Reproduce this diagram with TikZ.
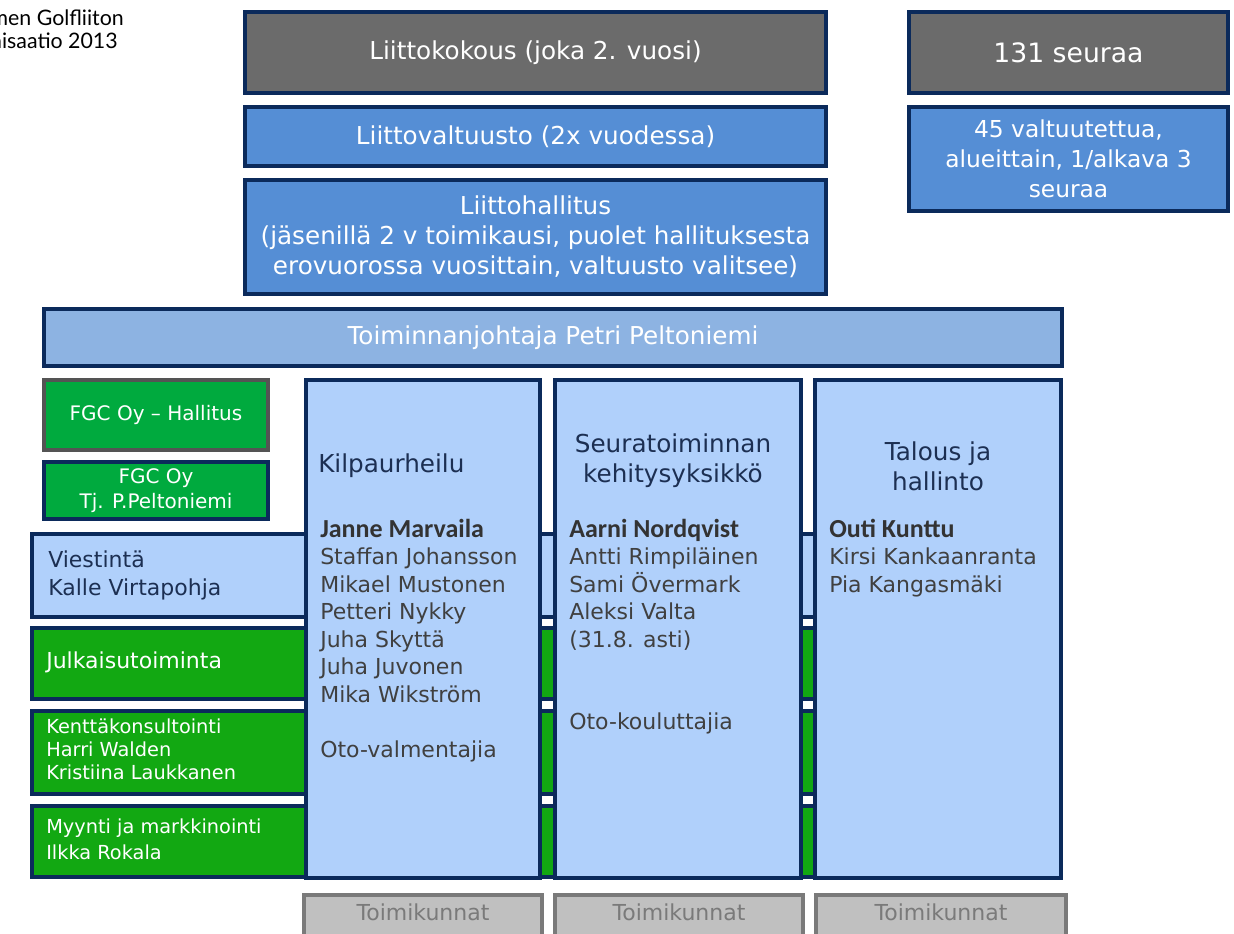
\documentclass[tikz,border=0pt]{standalone}
\usepackage{fontspec}
\setmainfont{DejaVu Sans}
\newfontfamily\namefont{Carlito}
\newfontfamily\notefont{Lato}
\usetikzlibrary{fit}
\definecolor{navy}{HTML}{0B2A5B}
\definecolor{boxgray}{HTML}{6B6B6B}
\definecolor{midblue}{HTML}{558ED5}
\definecolor{tjblue}{HTML}{8DB3E2}
\definecolor{lightblue}{HTML}{B0D0FB}
\definecolor{bandgreen}{HTML}{12A812}
\definecolor{fgcgreen}{HTML}{00AA3E}
\definecolor{tkgray}{HTML}{C0C0C0}
\definecolor{tkedge}{HTML}{7A7A7A}
\definecolor{nametext}{HTML}{404040}
\definecolor{boldtext}{HTML}{333333}
\definecolor{headtext}{HTML}{1C2F52}
\newcommand{\fsz}[2]{\fontsize{#1}{#2}\selectfont}
\newcommand{\boldname}[1]{{\namefont\bfseries\fontsize{19.5}{20.6}\selectfont\color{boldtext}#1}}
\begin{document}
\begin{tikzpicture}[x=0.75pt,y=-0.75pt,
  box/.style={draw=navy,line width=3pt,inner sep=0pt,rectangle},
  graybox/.style={box,fill=boxgray},
  midbox/.style={box,fill=midblue},
  tjbox/.style={box,fill=tjblue},
  fgcbox/.style={box,fill=fgcgreen},
  band/.style={box,fill=bandgreen},
  lightband/.style={box,fill=lightblue},
  column/.style={box,fill=lightblue},
  tkbox/.style={draw=tkedge,fill=tkgray,line width=3pt,inner sep=0pt,rectangle},
  wtext/.style={text=white,inner sep=0pt,align=center,font=\fsz{18.5}{22.5}},
  fgctext/.style={text=white,inner sep=0pt,align=center,font=\fsz{15}{18.5}},
  tktext/.style={text=tkedge,font=\fsz{16.5}{20},inner sep=0pt},
  bandtext/.style={anchor=west,align=left,inner sep=0pt,text=white},
  headtxt/.style={text=headtext,font=\fsz{18.5}{22.5},inner sep=0pt,align=center},
  names/.style={anchor=base west,align=left,inner sep=0pt,text=nametext,font=\fsz{16.5}{20.6}},
  note/.style={anchor=base east,inner sep=0pt,font=\notefont\fsz{16}{19}}
]
\useasboundingbox (0,0) rectangle (1234,933);
\clip (0,0) rectangle (1234,933);

% note
\node[note] (note1) at (124,25) {Suomen Golfliiton};
\node[note] (note2) at (118,48) {organisaatio 2013};

% top boxes
\node[graybox,fit={(245,12)(826,93)}] (kok) {};
\node[wtext] (kokt) at (kok.center) {Liittokokous (joka 2. vuosi)};
\node[graybox,fit={(909,12)(1228,93)}] (seu) {};
\node[wtext,font=\fsz{20}{22.5}] (seut) at (seu.center) {131 seuraa};
\node[midbox,fit={(245,107)(826,166)}] (valt) {};
\node[wtext] (valtt) at (valt.center) {Liittovaltuusto (2x vuodessa)};
\node[midbox,fit={(909,107)(1228,211)}] (v45) {};
\node[wtext,font=\fsz{17.5}{22.5}] (v45t) at (v45.center) {45 valtuutettua,\\alueittain, 1/alkava 3\\seuraa};
\node[midbox,fit={(245,180)(826,294)}] (hall) {};
\node[wtext] (hallt) at (hall.center) {Liittohallitus\\(jäsenillä 2 v toimikausi, puolet hallituksesta\\erovuorossa vuosittain, valtuusto valitsee)};
\node[tjbox,fit={(44,309)(1062,366)}] (tj) {};
\node[wtext] (tjt) at (tj.center) {Toiminnanjohtaja Petri Peltoniemi};

% FGC boxes
\node[fgcbox,draw=black!67,fit={(44,380)(268,450)}] (fgch) {};
\node[fgctext] (fgcht) at (fgch.center) {FGC Oy – Hallitus};
\node[fgcbox,fit={(44,462)(268,519)}] (fgct) {};
\node[fgctext] (fgctt) at (fgct.center) {FGC Oy\\Tj. P.Peltoniemi};

% bands
\node[lightband,fit={(32,534)(815,617)}] (viest) {};
\node[band,fit={(32,628)(815,699)}] (julk) {};
\node[band,fit={(32,711)(815,794)}] (kent) {};
\node[band,fit={(32,806)(815,877)}] (myyn) {};

% columns
\node[column,fit={(306,380)(540,878)}] (kilp) {};
\node[column,fit={(555,380)(801,878)}] (seura) {};
\node[column,fit={(815,380)(1061,878)}] (talous) {};

% band texts
\node[bandtext,text=headtext,font=\fsz{16.5}{21}] (viestt) at (48,575) {Viestintä\\Kalle Virtapohja};
\node[bandtext,font=\fsz{16.5}{20}] (julkt) at (46,662) {Julkaisutoiminta};
\node[bandtext,font=\fsz{14.5}{17.25}] (kentt) at (46,749) {Kenttäkonsultointi\\Harri Walden\\Kristiina Laukkanen};
\node[bandtext,font=\fsz{14.5}{19.5}] (myynt) at (46,839) {Myynti ja markkinointi\\Ilkka Rokala};

% column texts
\node[headtxt,anchor=west] (kilph) at (318,466) {Kilpaurheilu};
\node[headtxt] (seurah) at (673,461) {Seuratoiminnan\\kehitysyksikkö};
\node[headtxt] (talh) at (938,466) {Talous ja\\hallinto};

\node[names] (kilpn) at (320,757) {\boldname{Janne Marvaila}\\Staffan Johansson\\Mikael Mustonen\\Petteri Nykky\\Juha Skyttä\\Juha Juvonen\\Mika Wikström\\[20.6pt]Oto-valmentajia};
\node[names] (seuran) at (569,729.5) {\boldname{Aarni Nordqvist}\\Antti Rimpiläinen\\Sami Övermark\\Aleksi Valta\\(31.8. asti)\\[41.2pt]Oto-kouluttajia};
\node[names] (taln) at (829,592) {\boldname{Outi Kunttu}\\Kirsi Kankaanranta\\Pia Kangasmäki};

% Toimikunnat
\node[tkbox,fit={(304,895)(542,950)}] (tk1) {};
\node[tkbox,fit={(555,895)(803,950)}] (tk2) {};
\node[tkbox,fit={(816,895)(1066,950)}] (tk3) {};
\node[tktext] (tk1t) at (423,912) {Toimikunnat};
\node[tktext] (tk2t) at (679,912) {Toimikunnat};
\node[tktext] (tk3t) at (941,912) {Toimikunnat};
\end{tikzpicture}
\end{document}
